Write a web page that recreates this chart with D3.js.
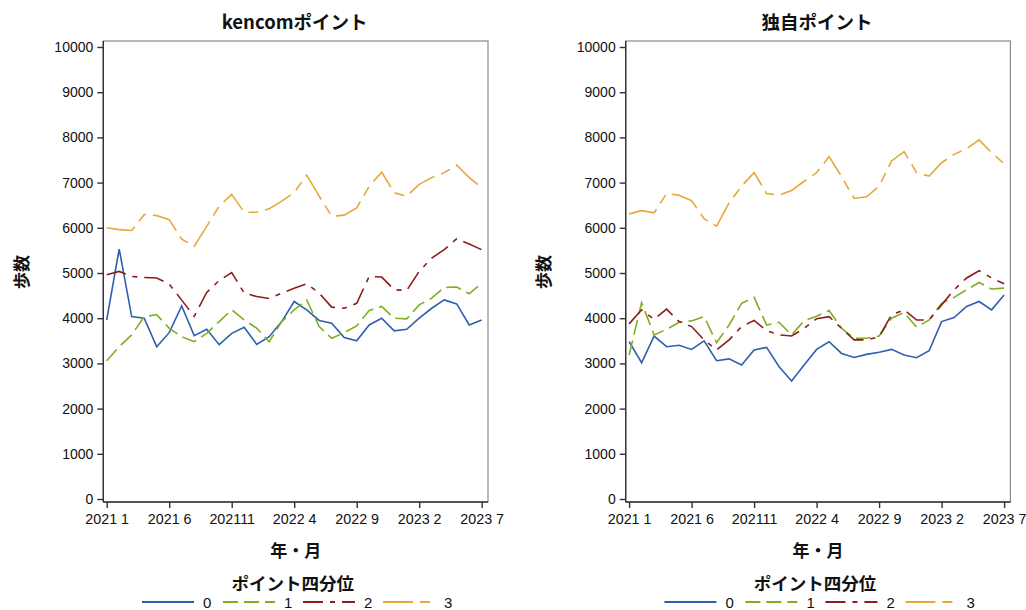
<!DOCTYPE html>
<html><head><meta charset="utf-8">
<script src="https://cdn.jsdelivr.net/npm/d3@7"></script>
<style>
body{margin:0;background:#fff;}
text{font-family:"Liberation Sans",Arial,sans-serif;}
.jp{font-family:"Noto Sans CJK JP","Liberation Sans",sans-serif;font-weight:bold;}
</style></head>
<body><svg id="c" width="1026" height="610"></svg>
<script>
const months = ["2021 1","2021 2","2021 3","2021 4","2021 5","2021 6","2021 7","2021 8","2021 9","202110","202111","202112",
"2022 1","2022 2","2022 3","2022 4","2022 5","2022 6","2022 7","2022 8","2022 9","202210","202211","202212",
"2023 1","2023 2","2023 3","2023 4","2023 5","2023 6","2023 7"];
const xTickIdx = [0,5,10,15,20,25,30];
const yTicks = [0,1000,2000,3000,4000,5000,6000,7000,8000,9000,10000];
const groups = ["0","1","2","3"];
const panelTitles = ["kencomポイント","独自ポイント"];

// kencomポイント
const kencom0 = [3960,5530,4035,4000,3370,3680,4270,3615,3755,3415,3665,3800,3420,3590,3925,4370,4185,3950,3890,3570,3500,3850,4000,3720,3755,4000,4220,4405,4315,3850,3960];
const kencom1 = [3060,3370,3630,4035,4075,3780,3590,3480,3665,3925,4185,3960,3780,3480,3925,4185,4405,3815,3555,3680,3830,4170,4260,4000,3985,4295,4445,4680,4690,4540,4775];
const kencom2 = [4960,5035,4925,4900,4890,4755,4400,4040,4570,4835,5010,4555,4480,4435,4555,4665,4760,4555,4245,4220,4330,4925,4910,4630,4615,5035,5330,5515,5760,5640,5515];
const kencom3 = [6000,5960,5940,6290,6270,6180,5750,5590,6030,6480,6740,6345,6345,6420,6590,6780,7166,6700,6256,6280,6440,6920,7230,6775,6700,6960,7110,7220,7390,7110,6885];
// 独自ポイント
const dokuji0 = [3480,3015,3605,3370,3400,3310,3500,3060,3100,2965,3295,3355,2925,2610,2965,3310,3480,3220,3130,3200,3245,3310,3185,3125,3280,3925,4015,4260,4370,4185,4515];
const dokuji1 = [3185,4345,3630,3755,3910,3940,4035,3460,3850,4330,4460,3850,3910,3630,3940,4045,4170,3775,3555,3555,3605,4000,4125,3800,3960,4330,4460,4630,4790,4645,4665];
const dokuji2 = [3875,4185,3975,4200,3925,3815,3520,3295,3520,3815,3950,3725,3630,3605,3775,3990,4035,3775,3520,3520,3590,4075,4185,3960,3960,4295,4630,4890,5050,4890,4760];
const dokuji3 = [6308,6380,6330,6760,6720,6600,6200,6035,6550,6920,7220,6760,6720,6825,7030,7220,7575,7130,6650,6685,6920,7480,7685,7220,7145,7440,7625,7750,7945,7660,7420];

const panels = [[kencom0,kencom1,kencom2,kencom3],[dokuji0,dokuji1,dokuji2,dokuji3]];
const colors = ["#2f5faf","#7fae1f","#8c1d1d","#e6a83a"];
const dashes = [null,"15,6","20,7,5,7","30,7,10,7"];

const svg = d3.select("#c");
const yTop = 41, yBot = 502;
const y = d3.scaleLinear().domain([0,10000]).range([499,47]);

panels.forEach((series, p) => {
  const off = p * 522.4;
  const left = 103.3 + off, right = 488 + off;
  const x = d3.scaleLinear().domain([0,30]).range([106.7+off, 481.7+off]);
  const g = svg.append("g");
  g.append("rect").attr("x",left).attr("y",yTop).attr("width",right-left).attr("height",yBot-yTop)
    .attr("fill","none").attr("stroke","#8a8a8a").attr("stroke-width",1.2);
  const line = d3.line().x((d,i)=>x(i)).y(d=>y(d));
  series.forEach((vals, k) => {
    g.append("path").datum(vals).attr("d", line).attr("fill","none")
      .attr("stroke", colors[k]).attr("stroke-width",1.6)
      .attr("stroke-dasharray", dashes[k]);
  });
  const ya = g.append("g").attr("transform",`translate(${left},0)`)
    .call(d3.axisLeft(y).tickValues(yTicks).tickFormat(d3.format("d")).tickSize(6).tickSizeOuter(0).tickPadding(4));
  ya.select(".domain").attr("d",`M0,${yTop}V${yBot}`).attr("stroke","#333").attr("stroke-width",1.4);
  ya.selectAll(".tick line").attr("stroke","#333").attr("stroke-width",1.4);
  ya.selectAll(".tick text").attr("font-size",14).attr("fill","#111").attr("font-family","Liberation Sans, Arial, sans-serif");
  const xa = g.append("g").attr("transform",`translate(0,${yBot})`)
    .call(d3.axisBottom(x).tickValues(xTickIdx).tickFormat(i=>months[i]).tickSize(6).tickSizeOuter(0).tickPadding(6));
  xa.select(".domain").attr("d",`M${left},0H${right}`).attr("stroke","#333").attr("stroke-width",1.4);
  xa.selectAll(".tick line").attr("stroke","#333").attr("stroke-width",1.4);
  xa.selectAll(".tick text").attr("font-size",14.3).attr("fill","#111").attr("font-family","Liberation Sans, Arial, sans-serif")
    .style("white-space","pre").attr("xml:space","preserve");
  const cx = (left+right)/2;
  g.append("text").attr("class","jp").attr("x",cx-1).attr("y",29).attr("text-anchor","middle")
    .attr("font-size",18.5).attr("fill","#111").text(panelTitles[p]);
  g.append("text").attr("class","jp").attr("x",cx).attr("y",557).attr("text-anchor","middle")
    .attr("font-size",17).attr("fill","#111").text("年・月");
  g.append("text").attr("class","jp").attr("transform",`translate(${28+off},272) rotate(-90)`)
    .attr("text-anchor","middle").attr("font-size",17).attr("fill","#111").text("歩数");
  g.append("text").attr("class","jp").attr("x",cx-3).attr("y",590).attr("text-anchor","middle")
    .attr("font-size",17.5).attr("fill","#111").text("ポイント四分位");
  const lx = [142,223,303,383];
  groups.forEach((gname,k)=>{
    g.append("line").attr("x1",lx[k]+off).attr("x2",lx[k]+off+52).attr("y1",602).attr("y2",602)
      .attr("stroke",colors[k]).attr("stroke-width",1.8).attr("stroke-dasharray",dashes[k]);
    g.append("text").attr("x",lx[k]+off+61).attr("y",608).attr("font-size",15).attr("fill","#111").text(gname);
  });
});
</script></body></html>
